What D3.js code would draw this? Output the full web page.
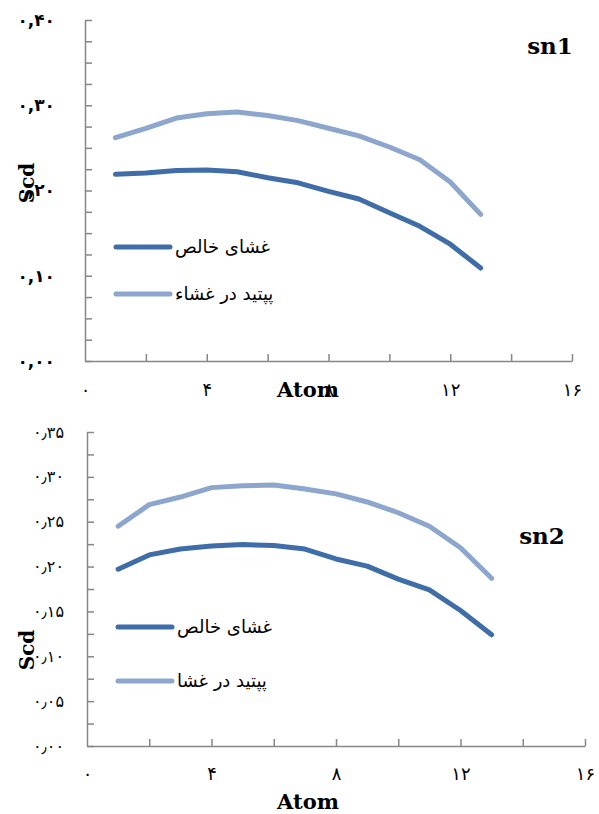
<!DOCTYPE html>
<html>
<head>
<meta charset="utf-8">
<script src="https://cdn.jsdelivr.net/npm/d3@7"></script>
<style>
  body { margin: 0; background: #fff; }
  .axis path, .axis line { stroke: #878787; stroke-width: 1.5; }
  .lbl text { font-family: "DejaVu Sans", sans-serif; fill: #000; }
  .title { font-family: "DejaVu Serif", serif; font-weight: bold; fill: #000; }
</style>
</head>
<body>
<script>
var width = 599,
  height = 814;

// data: atom index and order parameter
var atoms = [1, 2, 3, 4, 5, 6, 7, 8, 9, 10, 11, 12, 13];
var seriesNames = ["غشای خالص", "پپتید در غشاء"];
var seriesNames2 = ["غشای خالص", "پپتید در غشا"];

var sn1Pure = [0.219, 0.2205, 0.2235, 0.224, 0.222, 0.215, 0.209, 0.199, 0.190, 0.174, 0.158, 0.137, 0.109];
var sn1Peptide = [0.262, 0.273, 0.285, 0.290, 0.292, 0.288, 0.282, 0.273, 0.264, 0.251, 0.236, 0.210, 0.172];

var sn2Pure = [0.197, 0.213, 0.2195, 0.223, 0.2245, 0.2235, 0.2195, 0.2085, 0.2005, 0.186, 0.174, 0.151, 0.124];
var sn2Peptide = [0.245, 0.269, 0.2775, 0.288, 0.290, 0.291, 0.2865, 0.281, 0.272, 0.260, 0.245, 0.221, 0.187];

var xTicks = [0, 4, 8, 12, 16];
var xTickLabels = ["۰", "۴", "۸", "۱۲", "۱۶"];
var y1Ticks = [0, 0.1, 0.2, 0.3, 0.4];
var y1TickLabels = ["۰,۰۰", "۰,۱۰", "۰,۲۰", "۰,۳۰", "۰,۴۰"];
var y2Ticks = [0, 0.05, 0.1, 0.15, 0.2, 0.25, 0.3, 0.35];
var y2TickLabels = ["۰٫۰۰", "۰٫۰۵", "۰٫۱۰", "۰٫۱۵", "۰٫۲۰", "۰٫۲۵", "۰٫۳۰", "۰٫۳۵"];

var colors = ["#3F6DA7", "#8DA6CE"];

var svg = d3.select("body")
  .append("svg")
  .attr("width", width)
  .attr("height", height);

function drawChart(opt) {
  var x = d3.scaleLinear().domain([0, 16]).range([opt.left, opt.right]);
  var y = d3.scaleLinear().domain([0, opt.ymax]).range([opt.bottom, opt.top]);

  // minor/major ticks on y axis (inside)
  svg.append("g")
    .attr("class", "axis")
    .attr("transform", "translate(" + opt.left + ",0)")
    .call(d3.axisLeft(y).tickValues(d3.range(0, opt.ymax + 0.001, 0.025)).tickSize(-7).tickSizeOuter(0).tickFormat(""));

  // x axis ticks every 2
  svg.append("g")
    .attr("class", "axis")
    .attr("transform", "translate(0," + opt.bottom + ")")
    .call(d3.axisBottom(x).tickValues(d3.range(2, 17, 2)).tickSize(-7).tickSizeOuter(0).tickFormat(""));

  // y labels
  var yl = svg.append("g")
    .attr("class", "lbl")
    .attr("transform", "translate(" + opt.left + ",0)")
    .call(d3.axisLeft(y).tickValues(opt.yTicks).tickSize(0).tickPadding(opt.yPad)
      .tickFormat(function (d, i) { return opt.yLabels[i]; }));
  yl.select(".domain").remove();
  yl.selectAll("text")
    .style("font-size", opt.yFont + "px")
    .style("font-weight", opt.yBold ? "bold" : "normal")
    .style("letter-spacing", opt.ySpacing + "px")
    .attr("direction", "ltr");

  // x labels
  var xl = svg.append("g")
    .attr("class", "lbl")
    .attr("transform", "translate(0," + opt.bottom + ")")
    .call(d3.axisBottom(x).tickValues(xTicks).tickSize(0).tickPadding(opt.xPad)
      .tickFormat(function (d, i) { return xTickLabels[i]; }));
  xl.select(".domain").remove();
  xl.selectAll("text").style("font-size", "18px").style("letter-spacing", "2px").attr("direction", "ltr");

  // lines
  var line = d3.line()
    .x(function (d, i) { return x(atoms[i]); })
    .y(function (d) { return y(d); });

  [opt.pure, opt.peptide].forEach(function (s, k) {
    svg.append("path")
      .datum(s)
      .attr("fill", "none")
      .attr("stroke", colors[k])
      .attr("stroke-width", 5)
      .attr("stroke-linecap", "round")
      .attr("stroke-linejoin", "round")
      .attr("d", line);
  });

  // legend
  opt.names.forEach(function (name, k) {
    var ly = opt.legendY[k];
    svg.append("line")
      .attr("x1", opt.left + 31).attr("x2", opt.left + 85)
      .attr("y1", ly).attr("y2", ly)
      .attr("stroke", colors[k])
      .attr("stroke-width", 5)
      .attr("stroke-linecap", "round");
    svg.append("text")
      .attr("x", opt.left + 90)
      .attr("y", ly + 6)
      .attr("direction", "rtl")
      .attr("text-anchor", "end")
      .style("font-family", "'DejaVu Sans', sans-serif")
      .style("font-size", "18px")
      .text(name);
  });

  // titles
  svg.append("text")
    .attr("class", "title")
    .attr("x", opt.snX).attr("y", opt.snY)
    .attr("text-anchor", "middle")
    .style("font-size", "23px")
    .text(opt.sn);

  svg.append("text")
    .attr("class", "title")
    .attr("x", 308).attr("y", opt.atomY)
    .attr("text-anchor", "middle")
    .style("font-size", "21px")
    .text("Atom");

  svg.append("text")
    .attr("class", "title")
    .attr("transform", "translate(" + opt.scdX + "," + opt.scdY + ")rotate(-90)")
    .attr("text-anchor", "middle")
    .style("font-size", "20px")
    .text("Scd");
}

drawChart({
  left: 85, right: 572, top: 20, bottom: 361, ymax: 0.4,
  yTicks: y1Ticks, yLabels: y1TickLabels, yPad: 30, yFont: 17, yBold: true, ySpacing: 4,
  xPad: 22, pure: sn1Pure, peptide: sn1Peptide, names: seriesNames,
  legendY: [247, 294], sn: "sn1", snX: 550, snY: 54, atomY: 397, scdX: 34, scdY: 183
});

drawChart({
  left: 87, right: 585, top: 432, bottom: 746, ymax: 0.35,
  yTicks: y2Ticks, yLabels: y2TickLabels, yPad: 23, yFont: 16, yBold: false, ySpacing: 1,
  xPad: 21, pure: sn2Pure, peptide: sn2Peptide, names: seriesNames2,
  legendY: [627, 681], sn: "sn2", snX: 542, snY: 544, atomY: 809, scdX: 34, scdY: 650
});
</script>
</body>
</html>
